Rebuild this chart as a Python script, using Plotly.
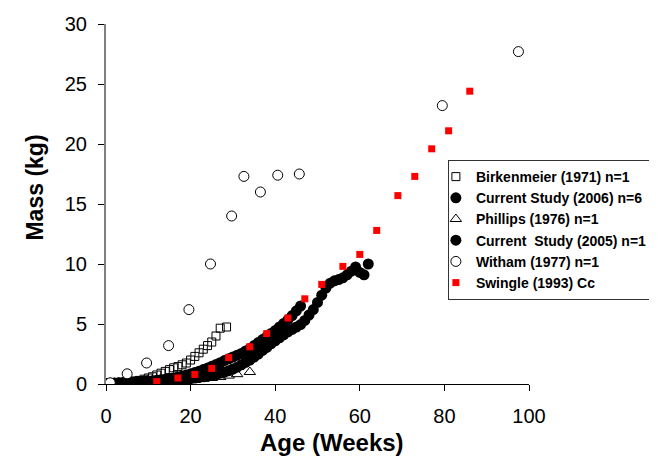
import plotly.graph_objects as go

# ---------------- data ----------------
birk_age = [1, 2, 3, 4, 5, 6, 7, 8, 9, 10, 11, 12, 13, 14, 15, 16, 17, 18, 19, 20,
            21, 22, 23, 24, 25, 26, 27, 28.5]
birk_mass = [0.05, 0.07, 0.1, 0.13, 0.17, 0.2, 0.25, 0.3, 0.4, 0.5, 0.6, 0.75, 0.9, 1.05,
             1.2, 1.35, 1.45, 1.6, 1.75, 2.0, 2.3, 2.6, 2.9, 3.2, 3.5, 4.0, 4.65, 4.75]

cs2006_age = list(range(0, 47))
cs2006_mass = [0.05, 0.07, 0.08, 0.1, 0.12, 0.14, 0.16, 0.18, 0.2, 0.22,
               0.25, 0.28, 0.32, 0.36, 0.4, 0.45, 0.5, 0.58, 0.66, 0.75,
               0.85, 0.95, 1.07, 1.2, 1.33, 1.47, 1.62, 1.78, 1.95, 2.1,
               2.25, 2.4, 2.55, 2.75, 2.95, 3.2, 3.45, 3.7, 3.95, 4.2,
               4.45, 4.75, 5.05, 5.35, 5.7, 6.1, 6.5]

phil_age = [1, 3, 5, 7, 9, 11, 13, 15, 17, 19, 21, 23, 25, 27, 29, 31, 34]
phil_mass = [0.03, 0.05, 0.07, 0.09, 0.11, 0.14, 0.17, 0.2, 0.24, 0.3, 0.36, 0.43,
             0.5, 0.58, 0.7, 0.82, 1.0]

cs2005_age = list(range(0, 63))
cs2005_mass = [0.05, 0.06, 0.07, 0.08, 0.09, 0.1, 0.11, 0.12, 0.13, 0.15,
               0.17, 0.19, 0.21, 0.23, 0.25, 0.28, 0.31, 0.34, 0.37, 0.41,
               0.45, 0.5, 0.55, 0.6, 0.66, 0.72, 0.8, 0.9, 1.0, 1.1,
               1.25, 1.4, 1.6, 1.8, 2.0, 2.25, 2.5, 2.8, 3.05, 3.35,
               3.6, 3.85, 4.1, 4.35, 4.55, 4.75, 4.95, 5.3, 5.75, 6.2,
               6.8, 7.4, 8.0, 8.4, 8.6, 8.7, 8.85, 9.1, 9.4, 9.75,
               9.3, 9.1, 10.0]

with_age = [1, 5, 9.6, 14.8, 19.6, 24.7, 29.7, 32.6, 36.5, 40.6, 45.7, 79.5, 97.5]
with_mass = [0.1, 0.85, 1.75, 3.2, 6.2, 10.0, 14.0, 17.3, 16.0, 17.4, 17.5, 23.2, 27.7]

swing_age = [12, 17, 21, 25, 29, 34, 38, 43, 47, 51, 56, 60, 64, 69, 73, 77, 81, 86]
swing_mass = [0.2, 0.5, 0.8, 1.3, 2.2, 3.1, 4.2, 5.5, 7.1, 8.3, 9.8, 10.8, 12.8, 15.7,
              17.3, 19.6, 21.1, 24.4]

x_ticks = [0, 20, 40, 60, 80, 100]
y_ticks = [0, 5, 10, 15, 20, 25, 30]

x_title = "Age (Weeks)"
y_title = "Mass (kg)"

# ---------------- figure ----------------
fig = go.Figure()
fig.add_trace(go.Scatter(x=birk_age, y=birk_mass, mode="markers",
                         name="Birkenmeier (1971) n=1", legendgroup="a",
                         marker=dict(symbol="square-open", size=8, color="black",
                                     line=dict(width=1))))
fig.add_trace(go.Scatter(x=cs2006_age, y=cs2006_mass, mode="markers",
                         name="Current Study (2006) n=6", legendgroup="b",
                         marker=dict(symbol="circle", size=11, color="black")))
fig.add_trace(go.Scatter(x=phil_age, y=phil_mass, mode="markers",
                         name="Phillips (1976) n=1", legendgroup="c",
                         marker=dict(symbol="triangle-up-open", size=10, color="black",
                                     line=dict(width=1))))
fig.add_trace(go.Scatter(x=cs2005_age, y=cs2005_mass, mode="markers",
                         name="Current  Study (2005) n=1", legendgroup="d",
                         marker=dict(symbol="circle", size=11, color="black")))
fig.add_trace(go.Scatter(x=with_age, y=with_mass, mode="markers",
                         name="Witham (1977) n=1", legendgroup="e",
                         marker=dict(symbol="circle", size=10, color="white",
                                     line=dict(width=1, color="black"))))
fig.add_trace(go.Scatter(x=swing_age, y=swing_mass, mode="markers",
                         name="Swingle (1993) Cc", legendgroup="f",
                         marker=dict(symbol="square", size=7, color="#ff0000")))

L, R, T, B = 98, 121, 16, 85
W, H = 657, 461
pw, ph = W - L - R, H - T - B
y0_px = H - B  # pixel row of the x axis

fig.update_layout(
    width=W, height=H,
    margin=dict(l=L, r=R, t=T, b=B),
    paper_bgcolor="white", plot_bgcolor="white",
    font=dict(family="Liberation Sans, Arial, sans-serif", color="black"),
    showlegend=True,
    legend=dict(x=(452 - L) / pw, y=(y0_px - 152) / ph, xanchor="left", yanchor="top",
                bgcolor="white", bordercolor="#333333", borderwidth=1,
                font=dict(size=14, family="Liberation Sans, Arial, sans-serif",
                          color="black", weight="bold"),
                itemwidth=30, indentation=-13, tracegroupgap=2,
                traceorder="normal"),
    xaxis=dict(range=[0, 100], tickvals=x_ticks, ticks="outside", ticklen=6,
               tickcolor="black", showline=True, linecolor="black", linewidth=1,
               showgrid=False, zeroline=False, tickfont=dict(size=20),
               ticklabelstandoff=8, automargin=False),
    yaxis=dict(range=[0, 30], tickvals=y_ticks, ticks="outside", ticklen=6,
               tickcolor="black", showline=True, linecolor="#808080", linewidth=2,
               showgrid=False, zeroline=False, tickfont=dict(size=20),
               ticklabelstandoff=7, automargin=False),
    annotations=[
        dict(text="<b>" + x_title + "</b>", xref="paper", yref="paper",
             x=0.535, y=-(434 - y0_px) / ph, xanchor="center", yanchor="middle",
             showarrow=False, font=dict(size=24)),
        dict(text="<b>" + y_title + "</b>", xref="paper", yref="paper",
             x=(24 - L) / pw, y=(y0_px - 180) / ph, xanchor="center", yanchor="middle",
             textangle=-90, showarrow=False, font=dict(size=23)),
    ],
)

fig.write_html("out.html")
